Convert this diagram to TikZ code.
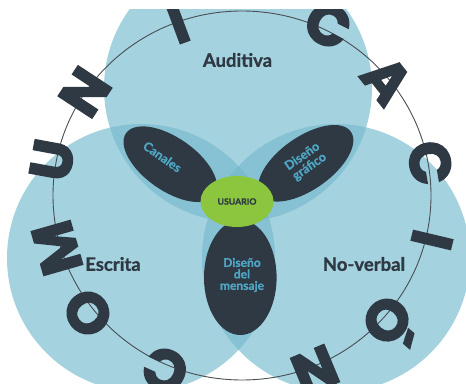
\documentclass[tikz,border=0pt]{standalone}
\usepackage{fontspec}
\setmainfont{Lato}[BoldFeatures={FakeBold=1}]
\newfontfamily\ringfont{Poppins}[BoldFeatures={FakeBold=3}]
\usetikzlibrary{shapes.geometric}

\definecolor{circ}{HTML}{A4D2DF}
\definecolor{lens}{HTML}{86C2D3}
\definecolor{core}{HTML}{7BBBCE}
\definecolor{navy}{HTML}{2E3944}
\definecolor{teal}{HTML}{4FA6C3}
\definecolor{lime}{HTML}{8CC63E}
\definecolor{ringline}{HTML}{4A4F55}

% a ring letter, boxed to the cap height so that its node centre is the letter centre
\newcommand{\ringglyph}[1]{{\ringfont\bfseries\fontsize{57pt}{57pt}\selectfont\smash{#1}\vphantom{I}}}

\tikzset{
  petal/.style={ellipse, fill=navy, inner sep=0pt, draw=none},
  petaltext/.style={text=teal, font=\bfseries\fontsize{12.5}{12.5}\selectfont, align=center, inner sep=0pt},
  arealabel/.style={text=navy, font=\bfseries\fontsize{18.5}{20}\selectfont, inner sep=0pt},
  ringletter/.style={text=navy, inner sep=0pt, anchor=center},
}

\begin{document}
\begin{tikzpicture}[x=1pt, y=1pt]
  \useasboundingbox (0,0) rectangle (466,383);
  \clip (0,0) rectangle (466,373);

  % centres of the three channel circles
  \coordinate (top) at (238,295);
  \coordinate (left) at (141,125);
  \coordinate (right) at (336,125);
  \def\rad{134}

  % the three channels
  \fill[circ] (top) circle (\rad);
  \fill[circ] (left) circle (\rad);
  \fill[circ] (right) circle (\rad);

  % pairwise overlaps
  \begin{scope}\clip (top) circle (\rad); \fill[lens] (left) circle (\rad);\end{scope}
  \begin{scope}\clip (top) circle (\rad); \fill[lens] (right) circle (\rad);\end{scope}
  \begin{scope}\clip (left) circle (\rad); \fill[lens] (right) circle (\rad);\end{scope}
  % common overlap
  \begin{scope}\clip (top) circle (\rad); \clip (left) circle (\rad); \fill[core] (right) circle (\rad);\end{scope}

  % petals
  \node[petal, minimum width=108, minimum height=53, rotate=-35] (canales) at (170.3,218.8) {};
  \node[petal, minimum width=110, minimum height=53, rotate=35] (grafico) at (305.8,219.7) {};
  \node[petal, minimum width=72.6, minimum height=115] (mensaje) at (240.3,105.5) {};
  \node[ellipse, fill=lime, minimum width=73, minimum height=51, inner sep=0pt] (usuario) at (237,181.5)
    {\textcolor{navy}{\bfseries\fontsize{8.7}{9}\selectfont USUARIO}};

  \node[petaltext, rotate=-35] (tcanales) at (162.5,226.3) {Canales};
  \node[petaltext, rotate=35] (tgrafico) at (306,221.3) {Diseño\\gráfico};
  \node[petaltext, font=\bfseries\fontsize{12}{11.5}\selectfont] (tmensaje) at (242,108) {Diseño\\del\\mensaje};

  % channel names
  \node[arealabel] (auditiva) at (237.5,323) {Auditiva};
  \node[arealabel] (escrita) at (113,119) {Escrita};
  \node[arealabel] (noverbal) at (364,119) {No-verbal};

  % outer ring
  \draw[ringline, line width=0.9pt] (242,187.5) ellipse [x radius=189, y radius=184.5];

  % ring lettering
  \node[ringletter, rotate=156] (l1) at (165,13) {\ringglyph{C}};
  \node[ringletter, rotate=127.5] (l2) at (88,70) {\ringglyph{O}};
  \node[ringletter, rotate=106] (l3) at (57,135) {\ringglyph{M}};
  \node[ringletter, rotate=79.6] (l4) at (52,223) {\ringglyph{U}};
  \node[ringletter, rotate=56.7] (l5) at (85,291) {\ringglyph{N}};
  \node[ringletter, rotate=20.4] (l6) at (178,360) {\ringglyph{I}};
  \node[ringletter, rotate=-26.8] (l7) at (328,358) {\ringglyph{C}};
  \node[ringletter, rotate=-51.6] (l8) at (387,303) {\ringglyph{A}};
  \node[ringletter, rotate=-80.3] (l9) at (430,220) {\ringglyph{C}};
  \node[ringletter, rotate=-103.3] (l10) at (432,143) {\ringglyph{I}};
  \node[ringletter, rotate=-130.8] (l11) at (387,63) {\ringglyph{Ó}};
  \node[ringletter, rotate=-157.4] (l12) at (315,13) {\ringglyph{N}};
\end{tikzpicture}
\end{document}
